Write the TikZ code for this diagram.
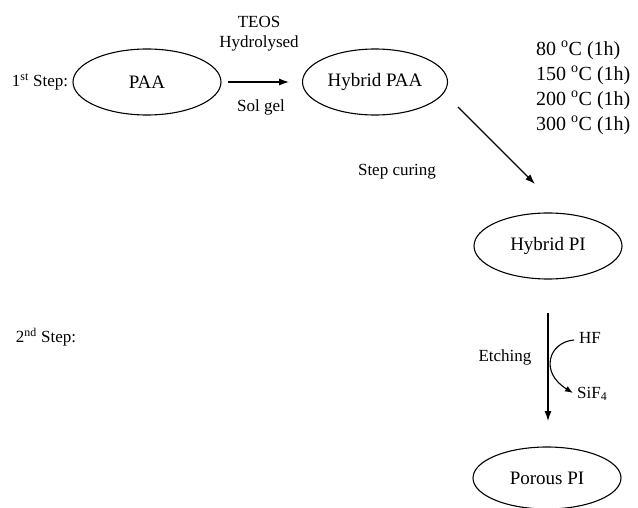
\documentclass[tikz,border=0pt]{standalone}
\usepackage{fontspec}
\setmainfont{Liberation Serif}
\usetikzlibrary{arrows.meta,shapes.geometric}
\begin{document}
\begin{tikzpicture}[x=1pt,y=-1pt,
  ell/.style={draw,line width=1.1pt,ellipse,minimum width=148pt,minimum height=66pt,inner sep=0pt,font=\fontsize{19}{22}\selectfont},
  lbl/.style={inner sep=0pt,font=\fontsize{17}{20}\selectfont},
  arr/.style={line width=1.1pt,-{Latex[length=10pt,width=7pt]}}]
\useasboundingbox (0,0) rectangle (638,508);
\node[ell] (paa) at (147,82) {PAA};
\node[ell,minimum width=145pt] (hpaa) at (375,82) {Hybrid PAA};
\node[ell] (hpi) at (548,246) {Hybrid PI};
\node[ell,minimum height=62pt] (ppi) at (547,478) {Porous PI};
\node[lbl] (s1) at (40,82) {1\textsuperscript{st} Step:};
\node[lbl] (s2) at (46,337) {2\textsuperscript{nd} Step:};
\node[lbl] (teos) at (259,22) {TEOS};
\node[lbl] (hyd) at (259,43) {Hydrolysed};
\node[lbl] (sol) at (261,107) {Sol gel};
\node[lbl] (cur) at (397,172) {Step curing};
\node[lbl] (etch) at (505,357) {Etching};
\node[lbl,anchor=west] (hf) at (579,338) {HF};
\node[lbl,anchor=west] (sif) at (577,394) {SiF\textsubscript{4}};
\node[inner sep=0pt,anchor=north west,align=left,font=\fontsize{20}{25}\selectfont] (temps) at (536,41)
  {80 \textsuperscript{o}C (1h)\\150 \textsuperscript{o}C (1h)\\200 \textsuperscript{o}C (1h)\\300 \textsuperscript{o}C (1h)};
\coordinate (a1e) at (289,82);
\draw[arr] (paa.east) ++(6,0) -- (a1e);
\coordinate (d1) at (458,107);
\coordinate (d2) at (535,184);
\draw[arr] (d1) -- (d2);
\coordinate (v1) at (548,313);
\coordinate (v2) at (548,421);
\draw[arr] (v1) -- (v2);
\coordinate (c1) at (574,340);
\coordinate (c2) at (573,393);
\draw[line width=1.1pt,-{Latex[length=8pt,width=6pt]}] (c1) .. controls (549,342) and (539,372) .. (c2);
\end{tikzpicture}
\end{document}
